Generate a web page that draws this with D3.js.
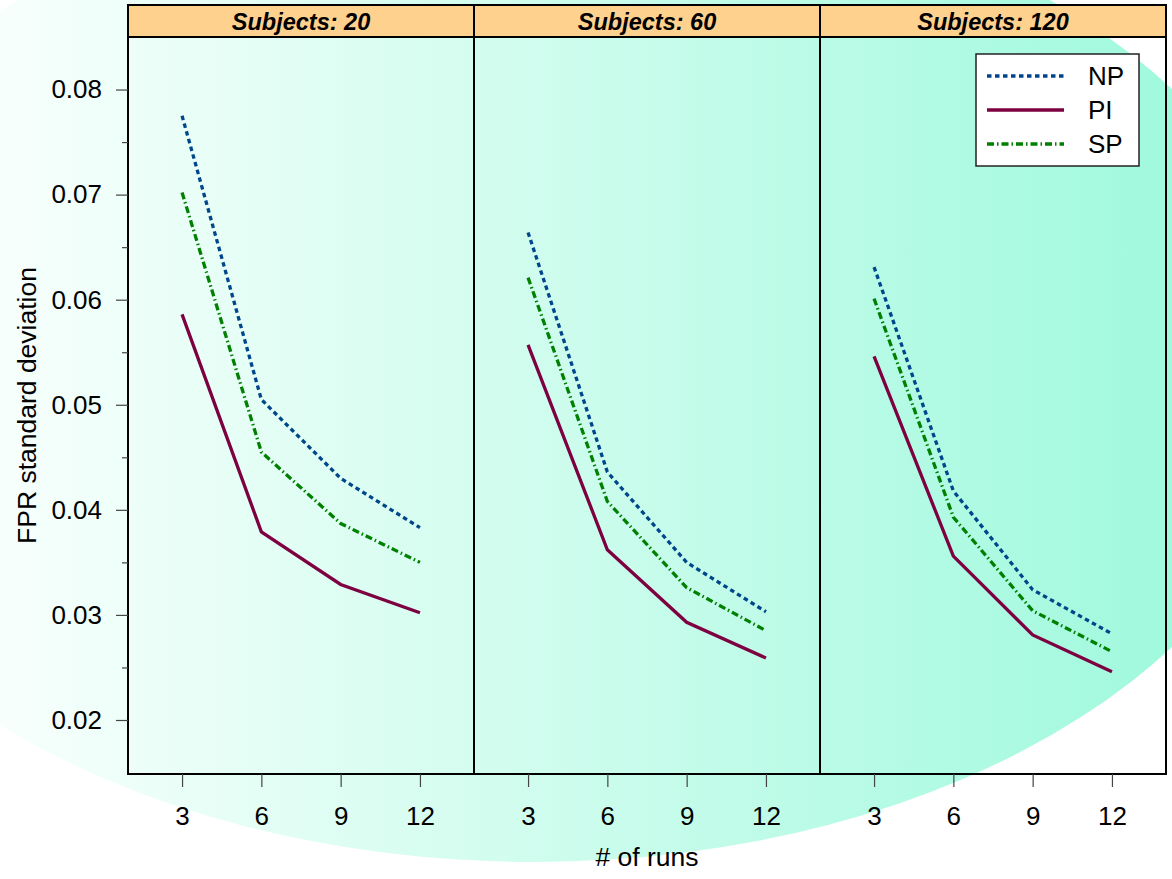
<!DOCTYPE html>
<html><head><meta charset="utf-8">
<script src="https://cdn.jsdelivr.net/npm/d3@7"></script>
<style>body{margin:0;background:#fff}svg{display:block}text{font-family:"Liberation Sans",Arial,sans-serif}</style>
</head><body>
<svg id="chart" width="1172" height="879"></svg>
<script>
const panels = ["Subjects: 20", "Subjects: 60", "Subjects: 120"];
const runs = [3, 6, 9, 12];
const seriesNames = ["NP", "PI", "SP"];
const npValues = [[0.0775, 0.0505, 0.0430, 0.0383], [0.0664, 0.0436, 0.0350, 0.0303], [0.0631, 0.0418, 0.0324, 0.0282]];
const piValues = [[0.0586, 0.0379, 0.0329, 0.0302], [0.0557, 0.0362, 0.0293, 0.0259], [0.0546, 0.0356, 0.0281, 0.0246]];
const spValues = [[0.0702, 0.0455, 0.0387, 0.0350], [0.0621, 0.0408, 0.0326, 0.0285], [0.0601, 0.0393, 0.0304, 0.0265]];
const yTicks = [0.02, 0.03, 0.04, 0.05, 0.06, 0.07, 0.08];
const yMinor = [0.025, 0.035, 0.045, 0.055, 0.065, 0.075];

(function () {
const W = 1172, H = 879;
const svg = d3.select("#chart");
const pLeft = 128, pRight = 1166, pTop = 37, pBottom = 774, stripTop = 5;
const pw = (pRight - pLeft) / 3;
const FONT = '"Liberation Sans",Arial,sans-serif';

const defs = svg.append("defs");
const grad = defs.append("linearGradient").attr("id", "bg").attr("gradientUnits", "userSpaceOnUse")
  .attr("x1", 0).attr("y1", 0).attr("x2", W).attr("y2", 0);
grad.append("stop").attr("offset", 0).attr("stop-color", "#f7fffc");
grad.append("stop").attr("offset", 1).attr("stop-color", "#a0f9dd");
svg.append("ellipse").attr("cx", 534).attr("cy", 368).attr("rx", 773).attr("ry", 494).attr("fill", "url(#bg)");

const y = d3.scaleLinear().domain([0.01486, 0.0850]).range([pBottom, pTop]);
const styles = {
  NP: {color: "#00468b", dash: "4.5,3.5"},
  PI: {color: "#7d0040", dash: null},
  SP: {color: "#008000", dash: "7,3,1.5,3"}
};
const data = {NP: npValues, PI: piValues, SP: spValues};

panels.forEach((name, i) => {
  const x0 = pLeft + i * pw, x1 = x0 + pw;
  const x = d3.scaleLinear().domain([0.955, 14.045]).range([x0, x1]);
  const g = svg.append("g");
  seriesNames.forEach(s => {
    const line = d3.line().x((d, k) => x(runs[k])).y(d => y(d));
    g.append("path").datum(data[s][i]).attr("d", line)
      .attr("fill", "none").attr("stroke", styles[s].color).attr("stroke-width", 3.3)
      .attr("stroke-dasharray", styles[s].dash);
  });
  g.append("rect").attr("x", x0).attr("y", pTop).attr("width", pw).attr("height", pBottom - pTop)
    .attr("fill", "none").attr("stroke", "#000").attr("stroke-width", 2);
  g.append("rect").attr("x", x0).attr("y", stripTop).attr("width", pw).attr("height", pTop - stripTop)
    .attr("fill", "#ffd18f").attr("stroke", "#000").attr("stroke-width", 2);
  g.append("text").attr("x", (x0 + x1) / 2).attr("y", 30).attr("text-anchor", "middle")
    .attr("font-size", 23.5).attr("font-weight", "bold").attr("font-style", "italic").text(name);
  const ax = svg.append("g").attr("transform", `translate(0,${pBottom})`)
    .call(d3.axisBottom(x).tickValues(runs).tickSize(13).tickPadding(20).tickSizeOuter(0));
  ax.select(".domain").remove();
  ax.selectAll("line").attr("stroke", "#444").attr("stroke-width", 1.2);
  ax.selectAll("text").attr("font-size", 26).attr("fill", "#000").style("font-family", FONT);
});

const ay = svg.append("g").attr("transform", `translate(${pLeft},0)`)
  .call(d3.axisLeft(y).tickValues(yTicks).tickFormat(d3.format(".2f")).tickSize(12).tickPadding(14).tickSizeOuter(0));
ay.select(".domain").remove();
ay.selectAll("line").attr("stroke", "#444").attr("stroke-width", 1.2);
ay.selectAll("text").attr("font-size", 26).attr("fill", "#000").style("font-family", FONT);
const am = svg.append("g").attr("transform", `translate(${pLeft},0)`)
  .call(d3.axisLeft(y).tickValues(yMinor).tickFormat("").tickSize(6).tickSizeOuter(0));
am.select(".domain").remove();
am.selectAll("line").attr("stroke", "#444").attr("stroke-width", 1.2);

svg.append("text").attr("x", (pLeft + pRight) / 2).attr("y", 866).attr("text-anchor", "middle")
  .attr("font-size", 26.5).text("# of runs");
svg.append("text").attr("transform", `translate(36,${(pTop + pBottom) / 2}) rotate(-90)`)
  .attr("text-anchor", "middle").attr("font-size", 26.5).text("FPR standard deviation");

const lg = svg.append("g");
lg.append("rect").attr("x", 976).attr("y", 54).attr("width", 163).attr("height", 112)
  .attr("fill", "#fff").attr("stroke", "#222").attr("stroke-width", 1.5);
seriesNames.forEach((s, k) => {
  const ly = 76 + k * 34;
  lg.append("line").attr("x1", 987).attr("x2", 1064).attr("y1", ly).attr("y2", ly)
    .attr("stroke", styles[s].color).attr("stroke-width", 3.3).attr("stroke-dasharray", styles[s].dash);
  lg.append("text").attr("x", 1088).attr("y", ly).attr("dy", "0.36em").attr("font-size", 26).text(s);
});
})();
</script>
</body></html>
